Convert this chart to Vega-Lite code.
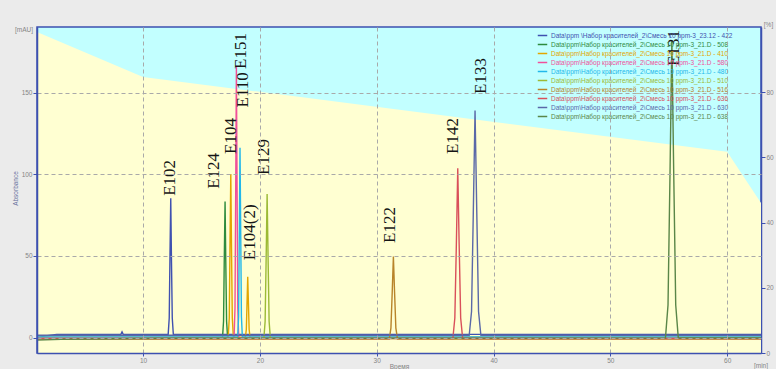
{
  "$schema": "https://vega.github.io/schema/vega-lite/v6.json",
  "width": 724,
  "height": 326,
  "autosize": {"type": "none"},
  "padding": {"left": 37, "top": 27, "right": 15, "bottom": 16},
  "background": "#ebebeb",
  "title": {
    "text": "[mAU]",
    "orient": "top",
    "anchor": "start",
    "frame": "group",
    "offset": 1,
    "dx": -22,
    "dy": 13,
    "font": "Liberation Sans",
    "fontSize": 6.5,
    "fontWeight": "normal",
    "color": "#858585"
  },
  "config": {
    "view": {"fill": "#c2ffff", "stroke": "#3d50b0", "strokeWidth": 1.5},
    "axis": {
      "labelFont": "Liberation Sans",
      "titleFont": "Liberation Sans",
      "labelFontSize": 6.5,
      "titleFontSize": 6.5,
      "titleFontWeight": "normal",
      "labelColor": "#858585",
      "titleColor": "#858585",
      "tickColor": "#3d50b0",
      "domainColor": "#3d50b0",
      "domainWidth": 1.5,
      "gridColor": "#a9a9a9",
      "gridDash": [4, 3],
      "gridWidth": 1,
      "gridOpacity": 1
    }
  },
  "datasets": {
    "grad": [
      {"t": 0.92, "pct": 98.5},
      {"t": 10, "pct": 84.7},
      {"t": 60, "pct": 61.7},
      {"t": 62.9, "pct": 46}
    ],
    "traces": [
      {"k": "422", "name": "Data\\ppm \\Набор красителей_2\\Смесь 10 ppm-3_23.12 - 422"},
      {"k": "508", "name": "Data\\ppm\\Набор красителей_2\\Смесь 10 ppm-3_21.D - 508"},
      {"k": "410", "name": "Data\\ppm\\Набор красителей_2\\Смесь 10 ppm-3_21.D - 410"},
      {"k": "580", "name": "Data\\ppm\\Набор красителей_2\\Смесь 10 ppm-3_21.D - 580"},
      {"k": "480", "name": "Data\\ppm\\Набор красителей_2\\Смесь 10 ppm-3_21.D - 480"},
      {"k": "510", "name": "Data\\ppm\\Набор красителей_2\\Смесь 10 ppm-3_21.D - 510"},
      {"k": "516", "name": "Data\\ppm\\Набор красителей_2\\Смесь 10 ppm-3_21.D - 516"},
      {"k": "636", "name": "Data\\ppm\\Набор красителей_2\\Смесь 10 ppm-3_21.D - 636"},
      {"k": "630", "name": "Data\\ppm\\Набор красителей_2\\Смесь 10 ppm-3_21.D - 630"},
      {"k": "638", "name": "Data\\ppm\\Набор красителей_2\\Смесь 10 ppm-3_21.D - 638"}
    ],
    "pts": [
      {"k": "422", "t": 0.92, "v": 0},
      {"k": "422", "t": 1.8, "v": 1.2},
      {"k": "422", "t": 2.6, "v": 2.0},
      {"k": "422", "t": 8.1, "v": 2.0},
      {"k": "422", "t": 8.2, "v": 3.5},
      {"k": "422", "t": 8.3, "v": 2.0},
      {"k": "422", "t": 12.15, "v": 2.0},
      {"k": "422", "t": 12.24, "v": 12},
      {"k": "422", "t": 12.3, "v": 48},
      {"k": "422", "t": 12.37, "v": 85.3},
      {"k": "422", "t": 12.43, "v": 48},
      {"k": "422", "t": 12.5, "v": 12},
      {"k": "422", "t": 12.59, "v": 2.0},
      {"k": "422", "t": 62.9, "v": 2.0},

      {"k": "508", "t": 0.92, "v": -0.3},
      {"k": "508", "t": 16.8, "v": -0.3},
      {"k": "508", "t": 16.89, "v": 10},
      {"k": "508", "t": 16.95, "v": 47},
      {"k": "508", "t": 17.02, "v": 83.3},
      {"k": "508", "t": 17.08, "v": 47},
      {"k": "508", "t": 17.15, "v": 10},
      {"k": "508", "t": 17.24, "v": -0.3},
      {"k": "508", "t": 62.9, "v": -0.3},

      {"k": "410", "t": 0.92, "v": 0.3},
      {"k": "410", "t": 17.29, "v": 0.3},
      {"k": "410", "t": 17.38, "v": 12},
      {"k": "410", "t": 17.44, "v": 55},
      {"k": "410", "t": 17.51, "v": 100.2},
      {"k": "410", "t": 17.57, "v": 55},
      {"k": "410", "t": 17.64, "v": 12},
      {"k": "410", "t": 17.73, "v": 0.3},
      {"k": "410", "t": 18.76, "v": 0.3},
      {"k": "410", "t": 18.84, "v": 5},
      {"k": "410", "t": 18.9, "v": 21},
      {"k": "410", "t": 18.96, "v": 37.3},
      {"k": "410", "t": 19.02, "v": 21},
      {"k": "410", "t": 19.08, "v": 5},
      {"k": "410", "t": 19.16, "v": 0.3},
      {"k": "410", "t": 62.9, "v": 0.3},

      {"k": "580", "t": 0.92, "v": 0},
      {"k": "580", "t": 17.79, "v": 0},
      {"k": "580", "t": 17.87, "v": 18},
      {"k": "580", "t": 17.93, "v": 90},
      {"k": "580", "t": 17.99, "v": 165.9},
      {"k": "580", "t": 18.05, "v": 90},
      {"k": "580", "t": 18.11, "v": 18},
      {"k": "580", "t": 18.19, "v": 0},
      {"k": "580", "t": 62.9, "v": 0},

      {"k": "480", "t": 0.92, "v": 0.5},
      {"k": "480", "t": 18.1, "v": 0.5},
      {"k": "480", "t": 18.18, "v": 13},
      {"k": "480", "t": 18.24, "v": 64},
      {"k": "480", "t": 18.3, "v": 116.2},
      {"k": "480", "t": 18.36, "v": 64},
      {"k": "480", "t": 18.42, "v": 13},
      {"k": "480", "t": 18.5, "v": 0.5},
      {"k": "480", "t": 62.9, "v": 0.5},

      {"k": "510", "t": 0.92, "v": -0.5},
      {"k": "510", "t": 20.34, "v": -0.5},
      {"k": "510", "t": 20.45, "v": 10},
      {"k": "510", "t": 20.54, "v": 50},
      {"k": "510", "t": 20.62, "v": 88},
      {"k": "510", "t": 20.7, "v": 50},
      {"k": "510", "t": 20.79, "v": 10},
      {"k": "510", "t": 20.9, "v": -0.5},
      {"k": "510", "t": 62.9, "v": -0.5},

      {"k": "516", "t": 0.92, "v": -0.8},
      {"k": "516", "t": 31.08, "v": -0.8},
      {"k": "516", "t": 31.22, "v": 6},
      {"k": "516", "t": 31.33, "v": 28},
      {"k": "516", "t": 31.43, "v": 49.6},
      {"k": "516", "t": 31.53, "v": 28},
      {"k": "516", "t": 31.64, "v": 6},
      {"k": "516", "t": 31.78, "v": -0.8},
      {"k": "516", "t": 62.9, "v": -0.8},

      {"k": "636", "t": 0.92, "v": -0.6},
      {"k": "636", "t": 36.52, "v": -0.6},
      {"k": "636", "t": 36.69, "v": 12},
      {"k": "636", "t": 36.82, "v": 57},
      {"k": "636", "t": 36.94, "v": 103.7},
      {"k": "636", "t": 37.06, "v": 57},
      {"k": "636", "t": 37.19, "v": 12},
      {"k": "636", "t": 37.36, "v": -0.6},
      {"k": "636", "t": 62.9, "v": -0.6},

      {"k": "630", "t": 0.92, "v": 1.5},
      {"k": "630", "t": 37.92, "v": 1.5},
      {"k": "630", "t": 38.12, "v": 16},
      {"k": "630", "t": 38.27, "v": 76},
      {"k": "630", "t": 38.42, "v": 139},
      {"k": "630", "t": 38.57, "v": 76},
      {"k": "630", "t": 38.72, "v": 16},
      {"k": "630", "t": 38.92, "v": 1.5},
      {"k": "630", "t": 62.9, "v": 1.5},

      {"k": "638", "t": 0.92, "v": -1.5},
      {"k": "638", "t": 3.0, "v": -1.0},
      {"k": "638", "t": 12.0, "v": -0.4},
      {"k": "638", "t": 54.72, "v": -0.2},
      {"k": "638", "t": 54.94, "v": 20},
      {"k": "638", "t": 55.11, "v": 100},
      {"k": "638", "t": 55.27, "v": 182},
      {"k": "638", "t": 55.43, "v": 100},
      {"k": "638", "t": 55.6, "v": 20},
      {"k": "638", "t": 55.82, "v": -0.2},
      {"k": "638", "t": 62.9, "v": -0.2}
    ],
    "labels": [
      {"lab": "E102", "t": 12.31, "v": 97.8},
      {"lab": "E124", "t": 16.08, "v": 102.1},
      {"lab": "E104", "t": 17.53, "v": 123.5},
      {"lab": "E151", "t": 18.37, "v": 175.5},
      {"lab": "E110", "t": 18.56, "v": 151.7},
      {"lab": "E129", "t": 20.36, "v": 110.6},
      {"lab": "E104(2)", "t": 19.16, "v": 64.5},
      {"lab": "E122", "t": 31.15, "v": 69.0},
      {"lab": "E142", "t": 36.52, "v": 123.5},
      {"lab": "E133", "t": 38.94, "v": 160.2},
      {"lab": "E131", "t": 55.46, "v": 177.3}
    ]
  },
  "layer": [
    {
      "data": {"name": "grad"},
      "mark": {"type": "area", "color": "#ffffd2", "interpolate": "linear", "opacity": 1},
      "encoding": {
        "x": {
          "field": "t",
          "type": "quantitative",
          "scale": {"domain": [0.92, 62.9], "nice": false, "zero": false},
          "axis": {
            "orient": "bottom",
            "title": "[min]",
            "labels": false,
            "ticks": false,
            "domain": false,
            "grid": false,
            "titleX": 723.5,
            "titleY": 9,
            "titleAlign": "center",
            "titleBaseline": "top"
          }
        },
        "y": {
          "field": "pct",
          "type": "quantitative",
          "scale": {"domain": [0, 100], "nice": false, "zero": false},
          "axis": {
            "orient": "right",
            "values": [0, 20, 40, 60, 80],
            "grid": false,
            "tickSize": 4,
            "labelPadding": 1,
            "title": "[%]",
            "titleAngle": 0,
            "titleX": 7,
            "titleY": -3,
            "titleAlign": "center",
            "titleBaseline": "middle"
          }
        }
      }
    },
    {
      "layer": [
        {
          "data": {"name": "pts"},
          "transform": [
            {"lookup": "k", "from": {"data": {"name": "traces"}, "key": "k", "fields": ["name"]}}
          ],
          "mark": {"type": "line", "strokeWidth": 1.4, "clip": true},
          "encoding": {
            "x": {
              "field": "t",
              "type": "quantitative",
              "scale": {"domain": [0.92, 62.9], "nice": false, "zero": false},
              "axis": {
                "orient": "bottom",
                "values": [10, 20, 30, 40, 50, 60],
                "grid": true,
                "tickSize": 3,
                "labelPadding": 1,
                "zindex": 1,
                "title": "Время",
                "titleX": 362,
                "titleY": 10,
                "titleAlign": "center",
                "titleBaseline": "top"
              }
            },
            "y": {
              "field": "v",
              "type": "quantitative",
              "scale": {"domain": [-9.4, 190.2], "nice": false, "zero": false},
              "axis": {
                "orient": "left",
                "values": [0, 50, 100, 150],
                "grid": true,
                "tickSize": 4,
                "labelPadding": 1,
                "zindex": 1,
                "title": "Absorbance",
                "titleAngle": 270,
                "titleX": -22,
                "titleY": 161,
                "titleAlign": "center",
                "titleBaseline": "middle",
                "titleColor": "#6a74a0"
              }
            },
            "color": {
              "field": "name",
              "type": "nominal",
              "scale": {
                "domain": [
                  "Data\\ppm \\Набор красителей_2\\Смесь 10 ppm-3_23.12 - 422",
                  "Data\\ppm\\Набор красителей_2\\Смесь 10 ppm-3_21.D - 508",
                  "Data\\ppm\\Набор красителей_2\\Смесь 10 ppm-3_21.D - 410",
                  "Data\\ppm\\Набор красителей_2\\Смесь 10 ppm-3_21.D - 580",
                  "Data\\ppm\\Набор красителей_2\\Смесь 10 ppm-3_21.D - 480",
                  "Data\\ppm\\Набор красителей_2\\Смесь 10 ppm-3_21.D - 510",
                  "Data\\ppm\\Набор красителей_2\\Смесь 10 ppm-3_21.D - 516",
                  "Data\\ppm\\Набор красителей_2\\Смесь 10 ppm-3_21.D - 636",
                  "Data\\ppm\\Набор красителей_2\\Смесь 10 ppm-3_21.D - 630",
                  "Data\\ppm\\Набор красителей_2\\Смесь 10 ppm-3_21.D - 638"
                ],
                "range": ["#3f51b0", "#2e8b3e", "#e3a600", "#f0509a", "#22b8ea", "#9cba36", "#b8842a", "#d9505a", "#5a68a8", "#5a8648"]
              },
              "legend": {
                "orient": "none",
                "legendX": 500,
                "legendY": 3,
                "title": null,
                "padding": 0,
                "symbolType": "stroke",
                "symbolSize": 90,
                "symbolStrokeWidth": 1.5,
                "labelFont": "Liberation Sans",
                "labelFontSize": 6.5,
                "labelLimit": 400,
                "labelOffset": 3,
                "rowPadding": 0,
                "encode": {"labels": {"update": {"fill": {"scale": "color", "field": "value"}}}}
              }
            }
          }
        },
        {
          "mark": {"type": "rule", "color": "#2b2b2b", "strokeWidth": 1.3},
          "encoding": {"y": {"datum": 90.5, "type": "quantitative"}}
        },
        {
          "data": {"name": "labels"},
          "mark": {
            "type": "text",
            "angle": 270,
            "font": "Liberation Serif",
            "fontSize": 17,
            "align": "center",
            "baseline": "middle",
            "color": "#151515"
          },
          "encoding": {
            "x": {"field": "t", "type": "quantitative"},
            "y": {"field": "v", "type": "quantitative"},
            "text": {"field": "lab", "type": "nominal"}
          }
        }
      ]
    }
  ],
  "resolve": {"scale": {"y": "independent"}, "axis": {"x": "independent"}}
}
